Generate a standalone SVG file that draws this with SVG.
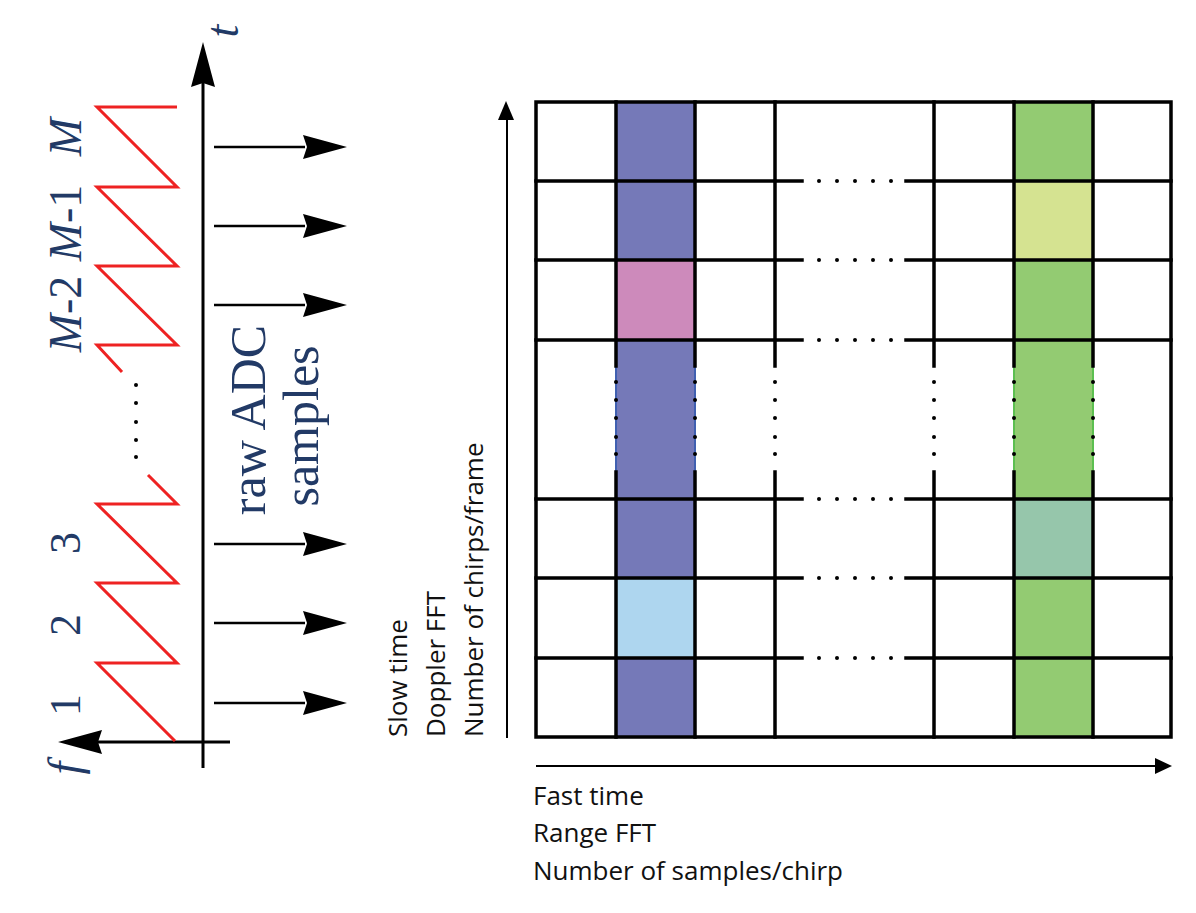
<svg xmlns="http://www.w3.org/2000/svg" width="1196" height="913" viewBox="0 0 1196 913">
<style>
.ax{stroke:#000;stroke-width:3;fill:none}
.ar{stroke:#000;stroke-width:2.5;fill:none}
.g{stroke:#000;stroke-width:3.5;fill:none;stroke-linecap:square}
.red{stroke:#ee2222;stroke-width:3;fill:none;stroke-linejoin:miter}
.lbl{font-family:"Liberation Serif","Times New Roman",serif;fill:#223a66}
.it{font-style:italic}
.cal{font-family:"Open Sans","Noto Sans",sans-serif;font-size:26px;fill:#111}
.dot{fill:#000}
</style>
<defs>
<path id="ahR" d="M0,0 L-44,-12 L-40,0 L-44,12 Z" fill="#000"/>
<g id="hrow" fill="#000"><circle cx="819" cy="0" r="2"/><circle cx="837" cy="0" r="2"/><circle cx="855" cy="0" r="2"/><circle cx="873" cy="0" r="2"/><circle cx="891" cy="0" r="2"/></g>
<g id="vcol" fill="#000"><circle cx="0" cy="382" r="2"/><circle cx="0" cy="400" r="2"/><circle cx="0" cy="418" r="2"/><circle cx="0" cy="437" r="2"/><circle cx="0" cy="454" r="2"/></g>
</defs>
<rect width="1196" height="913" fill="#fff"/>

<g id="left-axes">
  <line class="ax" x1="203" y1="768" x2="203" y2="80"/>
  <path d="M203,42 L191,87 L203,83 L215,87 Z" fill="#000"/>
  <line class="ax" x1="230" y1="742" x2="96" y2="742"/>
  <path d="M58,742 L102,730 L98,742 L102,754 Z" fill="#000"/>
  <text class="lbl it" font-size="46" text-anchor="middle" transform="translate(238,31) rotate(-90)">t</text>
  <text class="lbl it" font-size="46" text-anchor="middle" transform="translate(80,768) rotate(-90)">f</text>
</g>

<g id="chirps">
  <path class="red" d="M175,741 L97,663 L177,663 L97,583 L177,583 L97,504 L177,504 L148,475"/>
  <path class="red" d="M122,372 L97,345 L177,345 L97,266 L177,266 L97,187 L177,187 L97,107 L177,107"/>
  <g class="dot">
    <circle cx="136" cy="385" r="2"/><circle cx="136" cy="403" r="2"/><circle cx="136" cy="422" r="2"/><circle cx="136" cy="440" r="2"/><circle cx="136" cy="457" r="2"/>
  </g>
</g>

<g id="chirp-labels">
  <text class="lbl" font-size="44" text-anchor="middle" transform="translate(80,705) rotate(-90)">1</text>
  <text class="lbl" font-size="44" text-anchor="middle" transform="translate(80,625) rotate(-90)">2</text>
  <text class="lbl" font-size="44" text-anchor="middle" transform="translate(80,543) rotate(-90)">3</text>
  <text class="lbl" font-size="46" text-anchor="middle" transform="translate(81,314) rotate(-90)"><tspan class="it">M</tspan>-2</text>
  <text class="lbl" font-size="46" text-anchor="middle" transform="translate(81,223) rotate(-90)"><tspan class="it">M</tspan>-1</text>
  <text class="lbl it" font-size="46" text-anchor="middle" transform="translate(81,137) rotate(-90)">M</text>
</g>

<g id="adc-arrows">
  <line class="ar" x1="214" y1="147" x2="305" y2="147"/><use href="#ahR" x="347" y="147"/>
  <line class="ar" x1="214" y1="226" x2="305" y2="226"/><use href="#ahR" x="347" y="226"/>
  <line class="ar" x1="214" y1="305" x2="305" y2="305"/><use href="#ahR" x="347" y="305"/>
  <line class="ar" x1="214" y1="544" x2="305" y2="544"/><use href="#ahR" x="347" y="544"/>
  <line class="ar" x1="214" y1="623" x2="305" y2="623"/><use href="#ahR" x="347" y="623"/>
  <line class="ar" x1="214" y1="703" x2="305" y2="703"/><use href="#ahR" x="347" y="703"/>
  <text class="lbl" font-size="50" text-anchor="middle" transform="translate(265,420) rotate(-90)">raw ADC</text>
  <text class="lbl" font-size="50" text-anchor="middle" transform="translate(318,426) rotate(-90)">samples</text>
</g>

<g id="matrix">
  <rect x="616" y="102" width="79" height="635" fill="#7579b8"/>
  <rect x="1014" y="102" width="79" height="635" fill="#93cb72"/>
  <rect x="616" y="260" width="79" height="80" fill="#cd8abb"/>
  <rect x="616" y="578" width="79" height="80" fill="#aed6ef"/>
  <rect x="1014" y="181" width="79" height="79" fill="#d5e391"/>
  <rect x="1014" y="499" width="79" height="79" fill="#96c6ab"/>
  <g stroke-width="2">
    <line x1="616" y1="366" x2="616" y2="472" stroke="#4060b0"/>
    <line x1="695" y1="366" x2="695" y2="472" stroke="#4060b0"/>
    <line x1="1014" y1="366" x2="1014" y2="472" stroke="#5cbf50"/>
    <line x1="1093" y1="366" x2="1093" y2="472" stroke="#5cbf50"/>
  </g>
  <path class="g" d="M536,102 H1171 M536,737 H1171 M536,102 V737 M1171,102 V737"/>
  <path class="g" d="M616,102 V366 M616,472 V737 M695,102 V366 M695,472 V737 M775,102 V366 M775,472 V737 M934,102 V366 M934,472 V737 M1014,102 V366 M1014,472 V737 M1093,102 V366 M1093,472 V737"/>
  <path class="g" d="M536,181 H802 M906,181 H1171 M536,260 H802 M906,260 H1171 M536,340 H802 M906,340 H1171 M536,499 H802 M906,499 H1171 M536,578 H802 M906,578 H1171 M536,658 H802 M906,658 H1171"/>
  <g id="hdots">
    <use href="#hrow" y="181"/><use href="#hrow" y="260"/><use href="#hrow" y="340"/><use href="#hrow" y="499"/><use href="#hrow" y="578"/><use href="#hrow" y="658"/>
  </g>
  <g id="vdots">
    <use href="#vcol" x="616"/><use href="#vcol" x="695"/><use href="#vcol" x="775"/><use href="#vcol" x="934"/><use href="#vcol" x="1014"/><use href="#vcol" x="1093"/>
  </g>
</g>

<g id="matrix-axes">
  <line x1="507" y1="738" x2="507" y2="116" stroke="#000" stroke-width="2"/>
  <path d="M506,101 L498,120 L514,120 Z" fill="#000"/>
  <line x1="536" y1="766" x2="1158" y2="766" stroke="#000" stroke-width="2"/>
  <path d="M1172,766 L1155,758 L1155,774 Z" fill="#000"/>
  <text class="cal" transform="translate(407,737) rotate(-90)">Slow time</text>
  <text class="cal" transform="translate(445,737) rotate(-90)">Doppler FFT</text>
  <text class="cal" transform="translate(483,737) rotate(-90)">Number of chirps/frame</text>
  <text class="cal" x="533" y="805">Fast time</text>
  <text class="cal" x="533" y="842">Range FFT</text>
  <text class="cal" x="533" y="880">Number of samples/chirp</text>
</g>
</svg>
